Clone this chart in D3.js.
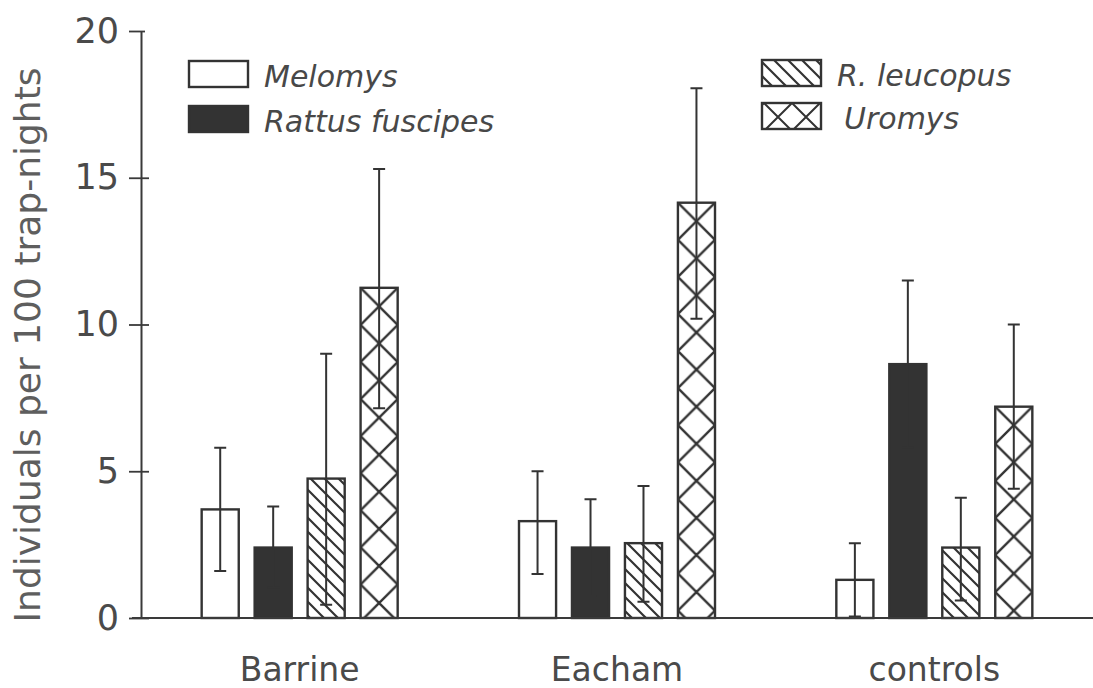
<!DOCTYPE html>
<html>
<head>
<meta charset="utf-8">
<style>
    body { margin: 0; background: #fff; }
    text { font-family: "DejaVu Sans", sans-serif; fill: #4a4a4a; }
    .bar { stroke: #333; stroke-width: 2.4; }
    .err { stroke: #333; stroke-width: 2; fill: none; }
    .legend text { font-style: italic; font-size: 30px; fill: #484848; }
</style>
</head>
<body>
<script src="https://d3js.org/d3.v7.min.js"></script>
<div class="chart"></div>
<script>

// sites along the x axis
var groups = ["Barrine", "Eacham", "controls"];
var species = ["Melomys", "Rattus fuscipes", "R. leucopus", "Uromys"];

// means (individuals per 100 trap-nights), one value per site
var melomys  = [3.7, 3.3, 1.3];
var rattus   = [2.4, 2.4, 8.65];
var leucopus = [4.75, 2.55, 2.4];
var uromys   = [11.25, 14.15, 7.2];

// error bar ends
var melomysLo  = [1.6, 1.5, 0.05],  melomysHi  = [5.8, 5.0, 2.55];
var rattusLo   = [1.05, 0.75, 5.8], rattusHi   = [3.8, 4.05, 11.5];
var leucopusLo = [0.45, 0.55, 0.6], leucopusHi = [9.0, 4.5, 4.1];
var uromysLo   = [7.15, 10.2, 4.4], uromysHi   = [15.3, 18.05, 10.0];

var yTicks = [0, 5, 10, 15, 20];
var yTitle = "Individuals per 100 trap-nights";

var series = [
    {name: species[0], v: melomys,  lo: melomysLo,  hi: melomysHi,  fill: "#fff"},
    {name: species[1], v: rattus,   lo: rattusLo,   hi: rattusHi,   fill: "#333"},
    {name: species[2], v: leucopus, lo: leucopusLo, hi: leucopusHi, fill: "url(#diag)"},
    {name: species[3], v: uromys,   lo: uromysLo,   hi: uromysHi,   fill: "xhatch"}
];

var rows = [];
groups.forEach(function(g, gi) {
    series.forEach(function(s, si) {
        rows.push({group: g, sp: s.name, v: s.v[gi], lo: s.lo[gi], hi: s.hi[gi], fill: s.fill, id: gi + "-" + si});
    });
});

var width = 1093, height = 688;
var axisX = 141;

var y = d3.scaleLinear().domain([0, 20]).range([618, 31]);

var x0 = d3.scaleBand().domain(groups).range([axisX, 1093]).padding(0);

var x1 = d3.scaleBand().domain(species).range([-98, 98]).paddingInner(0.3).paddingOuter(0);

var bw = x1.bandwidth();

var svg = d3.select(".chart").append("svg")
    .attr("width", width)
    .attr("height", height);

var defs = svg.append("defs");

// diagonal hatch for R. leucopus
defs.append("pattern")
    .attr("id", "diag")
    .attr("patternUnits", "userSpaceOnUse")
    .attr("width", 14).attr("height", 14)
    .append("path")
    .attr("d", "M0,0L14,14M-7,7L7,21M7,-7L21,7")
    .attr("stroke", "#333").attr("stroke-width", 2.2);

function barX(d) { return x0(d.group) + x0.bandwidth() / 2 + x1(d.sp); }

// cross hatch for Uromys, one tile per bar so the X's line up with the bar
rows.filter(function(d) { return d.fill == "xhatch"; }).forEach(function(d) {
    var p = defs.append("pattern")
        .attr("id", "xh" + d.id)
        .attr("patternUnits", "userSpaceOnUse")
        .attr("x", barX(d)).attr("y", y(d.v))
        .attr("width", bw).attr("height", bw);
    p.append("path")
        .attr("d", "M0,0L" + bw + "," + bw + "M" + bw + ",0L0," + bw)
        .attr("stroke", "#333").attr("stroke-width", 2.4);
});

// bars
svg.selectAll(".bar")
    .data(rows)
    .enter().append("rect")
    .attr("class", "bar")
    .attr("x", barX)
    .attr("y", function(d) { return y(d.v); })
    .attr("width", bw)
    .attr("height", function(d) { return y(0) - y(d.v); })
    .attr("fill", function(d) { return d.fill == "xhatch" ? "url(#xh" + d.id + ")" : d.fill; });

// error bars
var eb = svg.selectAll(".errg")
    .data(rows)
    .enter().append("g")
    .attr("class", "err")
    .attr("transform", function(d) { return "translate(" + (barX(d) + bw / 2) + ",0)"; });

eb.append("path")
    .attr("d", function(d) {
        return "M0," + y(d.lo) + "V" + y(d.hi) +
            "M-6," + y(d.hi) + "H6" +
            "M-6," + y(d.lo) + "H6";
    });

// y axis
var yAxis = svg.append("g")
    .attr("transform", "translate(" + axisX + ",0)")
    .call(d3.axisLeft(y).tickValues(yTicks).tickSize(12).tickSizeOuter(0).tickPadding(10));

yAxis.select(".domain").attr("stroke", "#3a3a3a").attr("stroke-width", 2);
yAxis.selectAll(".tick line")
    .attr("x1", function(d) { return d == 20 ? 4 : 8; })
    .attr("stroke", "#3a3a3a").attr("stroke-width", 1.8);
yAxis.selectAll(".tick text")
    .attr("font-size", 35)
    .attr("font-family", "DejaVu Sans")
    .attr("fill", "#5e5e5e");

// baseline at zero
svg.append("line")
    .attr("x1", axisX - 9).attr("x2", width)
    .attr("y1", y(0)).attr("y2", y(0))
    .attr("stroke", "#3a3a3a").attr("stroke-width", 2);

// site labels
var xAxis = svg.append("g")
    .attr("transform", "translate(0," + y(0) + ")")
    .call(d3.axisBottom(x0).tickSize(0));
xAxis.select(".domain").remove();
xAxis.selectAll(".tick text")
    .attr("y", 63)
    .attr("dy", null)
    .attr("font-size", 33)
    .attr("font-family", "DejaVu Sans")
    .attr("fill", "#4a4a4a");

// y title
svg.append("text")
    .attr("transform", "translate(40," + 345 + ") rotate(-90)")
    .attr("text-anchor", "middle")
    .attr("font-size", 36)
    .style("fill", "#5e5e5e")
    .text(yTitle);

// legend
var legendPos = [
    {x: 189, y: 61}, {x: 189, y: 106},
    {x: 762, y: 60}, {x: 762, y: 103}
];

var lg = svg.append("g").attr("class", "legend");

defs.append("pattern")
    .attr("id", "xhLegend")
    .attr("patternUnits", "userSpaceOnUse")
    .attr("x", legendPos[3].x + 2).attr("y", legendPos[3].y)
    .attr("width", 28).attr("height", 28)
    .append("path")
    .attr("d", "M0,0L28,28M28,0L0,28")
    .attr("stroke", "#333").attr("stroke-width", 2);

series.forEach(function(s, i) {
    var p = legendPos[i];
    lg.append("rect")
        .attr("class", "bar")
        .attr("x", p.x).attr("y", p.y)
        .attr("width", 59).attr("height", 26)
        .attr("fill", s.fill == "xhatch" ? "url(#xhLegend)" : s.fill);
    lg.append("text")
        .attr("x", p.x + 75 + (i == 3 ? 7 : 0))
        .attr("y", p.y + 26)
        .text(s.name);
});

</script>
</body>
</html>
